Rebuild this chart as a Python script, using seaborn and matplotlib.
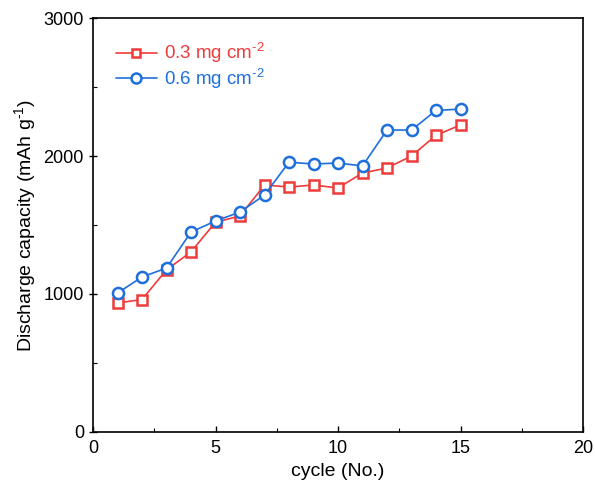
import matplotlib
matplotlib.use("Agg")
import matplotlib.pyplot as plt
from matplotlib.ticker import MultipleLocator
import seaborn as sns
import pandas as pd

cycles = list(range(1, 16))
cap_03 = [935, 960, 1175, 1305, 1520, 1565, 1790, 1775, 1790, 1768, 1877, 1913, 2000, 2150, 2225]
cap_06 = [1007, 1123, 1188, 1449, 1529, 1594, 1717, 1955, 1942, 1949, 1928, 2188, 2188, 2330, 2340]
labels = ["0.3 mg cm$^{\u20102}$", "0.6 mg cm$^{\u20102}$"]
colors = ["#EE3B3B", "#1E6FDB"]

df = pd.concat([
    pd.DataFrame({"cycle": cycles, "cap": cap_03, "s": labels[0]}),
    pd.DataFrame({"cycle": cycles, "cap": cap_06, "s": labels[1]}),
])

sns.set_style("ticks")
plt.rcParams['font.family'] = ['Liberation Sans', 'DejaVu Sans']
plt.rcParams['mathtext.fontset'] = 'custom'
plt.rcParams['mathtext.rm'] = 'Liberation Sans'
plt.rcParams['mathtext.it'] = 'Liberation Sans'
plt.rcParams['mathtext.default'] = 'regular'
plt.rcParams['text.color'] = 'black'
plt.rcParams['axes.labelcolor'] = 'black'
plt.rcParams['xtick.color'] = 'black'
plt.rcParams['ytick.color'] = 'black'
plt.rcParams['axes.edgecolor'] = 'black'

fig = plt.figure(figsize=(5.95, 4.93), dpi=100)
ax = fig.add_axes([93/595, 1-432/493, 490/595, 414/493])

markers = ["s", "o"]
for lab, col, mk in zip(labels, colors, markers):
    sub = df[df.s == lab]
    sns.lineplot(data=sub, x="cycle", y="cap", ax=ax, color=col, marker=mk,
                 markersize=8 if mk == "o" else 7, markerfacecolor="white",
                 markeredgecolor=col, markeredgewidth=1.8, linewidth=1.2,
                 label=lab)

ax.set_xlim(0, 20)
ax.set_ylim(0, 3000)
ax.set_xticks([0, 5, 10, 15, 20])
ax.set_yticks([0, 1000, 2000, 3000])
ax.xaxis.set_minor_locator(MultipleLocator(2.5))
ax.yaxis.set_minor_locator(MultipleLocator(500))
ax.tick_params(axis="x", which="major", direction="in", length=4, width=1, labelsize=13, pad=6)
ax.tick_params(axis="y", which="major", direction="inout", length=6, width=1, labelsize=13)
ax.tick_params(which="minor", direction="in", length=3, width=0.8)
for sp in ax.spines.values():
    sp.set_visible(True)
    sp.set_linewidth(1.2)
ax.set_xlabel("cycle (No.)", fontsize=14)
ax.set_ylabel("Discharge capacity (mAh g$^{\u20101}$)", fontsize=14)

leg = ax.legend(loc="upper left", bbox_to_anchor=(0.012, 0.985), frameon=False,
                fontsize=13.5, handlelength=2.2, handletextpad=0.35, labelspacing=0.08,
                markerscale=0.9)
for t, col in zip(leg.get_texts(), colors):
    t.set_color(col)

fig.savefig("out.png", dpi=100)
